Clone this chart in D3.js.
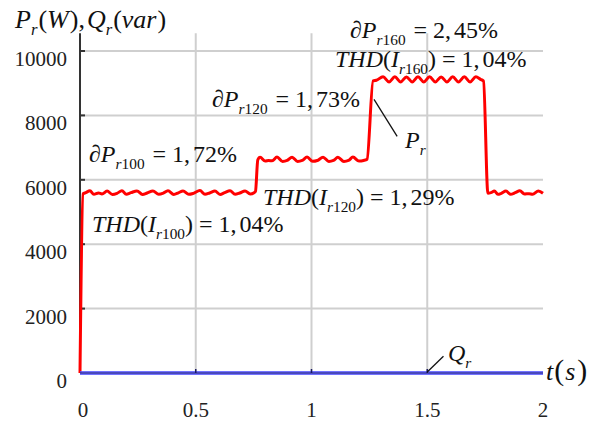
<!DOCTYPE html>
<html><head><meta charset="utf-8">
<script src="https://cdn.jsdelivr.net/npm/d3@7/dist/d3.min.js"></script>
</head><body style="margin:0">
<svg id="chart" width="605" height="424" font-family="Liberation Serif"></svg>
<script>
// ---- data ----
const timeP = [0, 0.013, 0.025, 0.043, 0.06, 0.08, 0.095, 0.117, 0.14, 0.16, 0.181, 0.2, 0.22, 0.246, 0.27, 0.29, 0.315, 0.34, 0.36, 0.38, 0.405, 0.425, 0.445, 0.47, 0.49, 0.518, 0.54, 0.56, 0.583, 0.605, 0.625, 0.648, 0.67, 0.69, 0.713, 0.735, 0.752,
  0.758, 0.768, 0.778, 0.8, 0.815, 0.83, 0.851, 0.875, 0.895, 0.916, 0.94, 0.96, 0.981, 1.005, 1.025, 1.05, 1.075, 1.095, 1.114, 1.14, 1.16, 1.179, 1.205, 1.225, 1.24,
  1.266, 1.28, 1.309, 1.335, 1.36, 1.385, 1.41, 1.435, 1.46, 1.485, 1.51, 1.535, 1.56, 1.585, 1.61, 1.635, 1.66, 1.685, 1.71, 1.73, 1.743,
  1.762, 1.775, 1.79, 1.805, 1.82, 1.84, 1.86, 1.88, 1.9, 1.92, 1.94, 1.955, 1.98, 2.0];
const valueP = [0, 5560, 5600, 5660, 5550, 5590, 5560, 5650, 5545, 5580, 5660, 5555, 5600, 5655, 5545, 5590, 5650, 5550, 5585, 5660, 5545, 5595, 5655, 5550, 5580, 5665, 5550, 5590, 5650, 5545, 5600, 5660, 5550, 5590, 5655, 5560, 5600,
  5640, 6620, 6700, 6580, 6600, 6590, 6705, 6570, 6600, 6700, 6570, 6600, 6705, 6575, 6600, 6700, 6570, 6600, 6700, 6570, 6600, 6705, 6580, 6600, 6640,
  9070, 9090, 9200, 9040, 9200, 9040, 9195, 9040, 9200, 9040, 9200, 9040, 9195, 9040, 9200, 9040, 9200, 9040, 9200, 9120, 9070,
  5580, 5600, 5650, 5550, 5580, 5650, 5550, 5600, 5660, 5560, 5570, 5550, 5650, 5580];
const timeQ = [0, 0.5, 1, 1.5, 2];
const valueQ = [0, 0, 0, 0, 0];
const xTicks = [0, 0.5, 1, 1.5, 2];
const xTickLabels = ["0", "0.5", "1", "1.5", "2"];
const yTicks = [0, 2000, 4000, 6000, 8000, 10000];
const yTickLabels = ["0", "2000", "4000", "6000", "8000", "10000"];

// ---- chart ----
const svg = d3.select("#chart");
const x = d3.scaleLinear().domain([0, 2]).range([80, 543]);
const y = d3.scaleLinear().domain([0, 10000]).range([373, 51]);
const yTop = y(10550);

// grid
svg.append("g").selectAll("line").data(yTicks.slice(1)).join("line")
  .attr("x1", x(0)).attr("x2", x(2)).attr("y1", d => y(d)).attr("y2", d => y(d))
  .attr("stroke", "#cfcfcf").attr("stroke-width", 2);
svg.append("g").selectAll("line").data(xTicks.slice(1, 4)).join("line")
  .attr("x1", d => x(d)).attr("x2", d => x(d)).attr("y1", y(0)).attr("y2", yTop)
  .attr("stroke", "#cfcfcf").attr("stroke-width", 2);

// axes lines
svg.append("line").attr("x1", x(0)).attr("x2", x(0)).attr("y1", y(0)).attr("y2", yTop)
  .attr("stroke", "#333").attr("stroke-width", 2);
svg.append("g").selectAll("line").data(yTicks.slice(1)).join("line")
  .attr("x1", x(0)).attr("x2", x(0) + 5).attr("y1", d => y(d)).attr("y2", d => y(d))
  .attr("stroke", "#333").attr("stroke-width", 2);

// tick labels
yTicks.forEach((d, i) => {
  svg.append("text").attr("x", 67).attr("y", y(d) + 15).attr("text-anchor", "end")
    .attr("font-family", "Liberation Serif").attr("font-size", 21).attr("fill", "#222")
    .text(yTickLabels[i]);
});
xTicks.forEach((d, i) => {
  svg.append("text").attr("x", x(d) + (d === 0 ? 3 : 0)).attr("y", 417).attr("text-anchor", "middle")
    .attr("font-family", "Liberation Serif").attr("font-size", 21).attr("fill", "#222")
    .text(xTickLabels[i]);
});

// series
const lineGen = d3.line().x(d => x(d[0])).y(d => y(d[1])).curve(d3.curveMonotoneX);
svg.append("path").datum(timeP.map((t, i) => [t, valueP[i]]))
  .attr("d", lineGen).attr("fill", "none").attr("stroke", "#ff0000").attr("stroke-width", 3)
  .attr("stroke-linejoin", "round");
const qLine = d3.line().x(d => x(d[0])).y(d => y(d[1]));
const qData = timeQ.map((t, i) => [t, valueQ[i]]);
svg.append("path").datum(qData).attr("d", qLine).attr("fill", "none")
  .attr("stroke", "rgba(80,80,255,0.8)").attr("stroke-width", 4);
svg.append("path").datum(qData).attr("d", qLine).attr("fill", "none")
  .attr("stroke", "#20207a").attr("stroke-width", 1);
svg.append("g").selectAll("line").data(xTicks.slice(1, 4)).join("line")
  .attr("x1", d => x(d)).attr("x2", d => x(d)).attr("y1", y(0)).attr("y2", y(0) - 4)
  .attr("stroke", "#1a1a60").attr("stroke-width", 1.5);

// rich text helper
function rich(px, py, parts, size) {
  const t = svg.append("text").attr("x", px).attr("y", py)
    .attr("font-family", "Liberation Serif").attr("font-size", size).attr("fill", "#111");
  let shifted = 0;
  parts.forEach(p => {
    const ts = t.append("tspan").text(p.s);
    if (p.i) ts.attr("font-style", "italic");
    const target = p.sub ? size * 0.28 : 0;
    if (target !== shifted) { ts.attr("dy", target - shifted); shifted = target; }
    if (p.sub) ts.attr("font-size", size * 0.64);
    if (p.big) ts.attr("font-size", size * 1.15);
    if (p.dx) ts.attr("dx", p.dx);
  });
  return t;
}
const DEL = "\u2202";
rich(15, 28, [{s:"P",i:1},{s:"r",i:1,sub:1},{s:"(",dx:1},{s:"W",i:1},{s:")",dx:1},{s:","},{s:"Q",i:1,dx:2},{s:"r",i:1,sub:1},{s:"(",dx:1},{s:"var",i:1},{s:")",dx:1}], 26);
rich(350, 38, [{s:DEL},{s:"P",i:1},{s:"r",i:1,sub:1},{s:"160",sub:1},{s:" = 2,",dx:2},{s:"45%",dx:3}], 24);
rich(335, 67, [{s:"THD",i:1},{s:"("},{s:"I",i:1},{s:"r",i:1,sub:1},{s:"160",sub:1},{s:")"},{s:" = 1,"},{s:"04%",dx:3}], 24);
rich(212, 107, [{s:DEL},{s:"P",i:1},{s:"r",i:1,sub:1},{s:"120",sub:1},{s:" = 1,",dx:2},{s:"73%",dx:3}], 24);
rich(89, 162, [{s:DEL},{s:"P",i:1},{s:"r",i:1,sub:1},{s:"100",sub:1},{s:" = 1,",dx:2},{s:"72%",dx:3}], 24);
rich(92, 232, [{s:"THD",i:1},{s:"("},{s:"I",i:1},{s:"r",i:1,sub:1},{s:"100",sub:1},{s:")"},{s:" = 1,"},{s:"04%",dx:3}], 24);
rich(263, 205, [{s:"THD",i:1},{s:"("},{s:"I",i:1},{s:"r",i:1,sub:1},{s:"120",sub:1},{s:")"},{s:" = 1,"},{s:"29%",dx:3}], 24);
rich(405, 148, [{s:"P",i:1},{s:"r",i:1,sub:1}], 24);
rich(448, 361, [{s:"Q",i:1},{s:"r",i:1,sub:1}], 24);
rich(546, 380, [{s:"t",i:1},{s:"(",big:1,dx:1},{s:"s",i:1,dx:1},{s:")",big:1,dx:2}], 26);

// leader lines
svg.append("line").attr("x1", x(1.27)).attr("y1", y(8500)).attr("x2", x(1.37)).attr("y2", y(7350))
  .attr("stroke", "#111").attr("stroke-width", 1.3);
svg.append("line").attr("x1", x(1.5)).attr("y1", y(0) - 1).attr("x2", x(1.57)).attr("y2", y(520))
  .attr("stroke", "#111").attr("stroke-width", 1.3);
</script>
</body></html>
